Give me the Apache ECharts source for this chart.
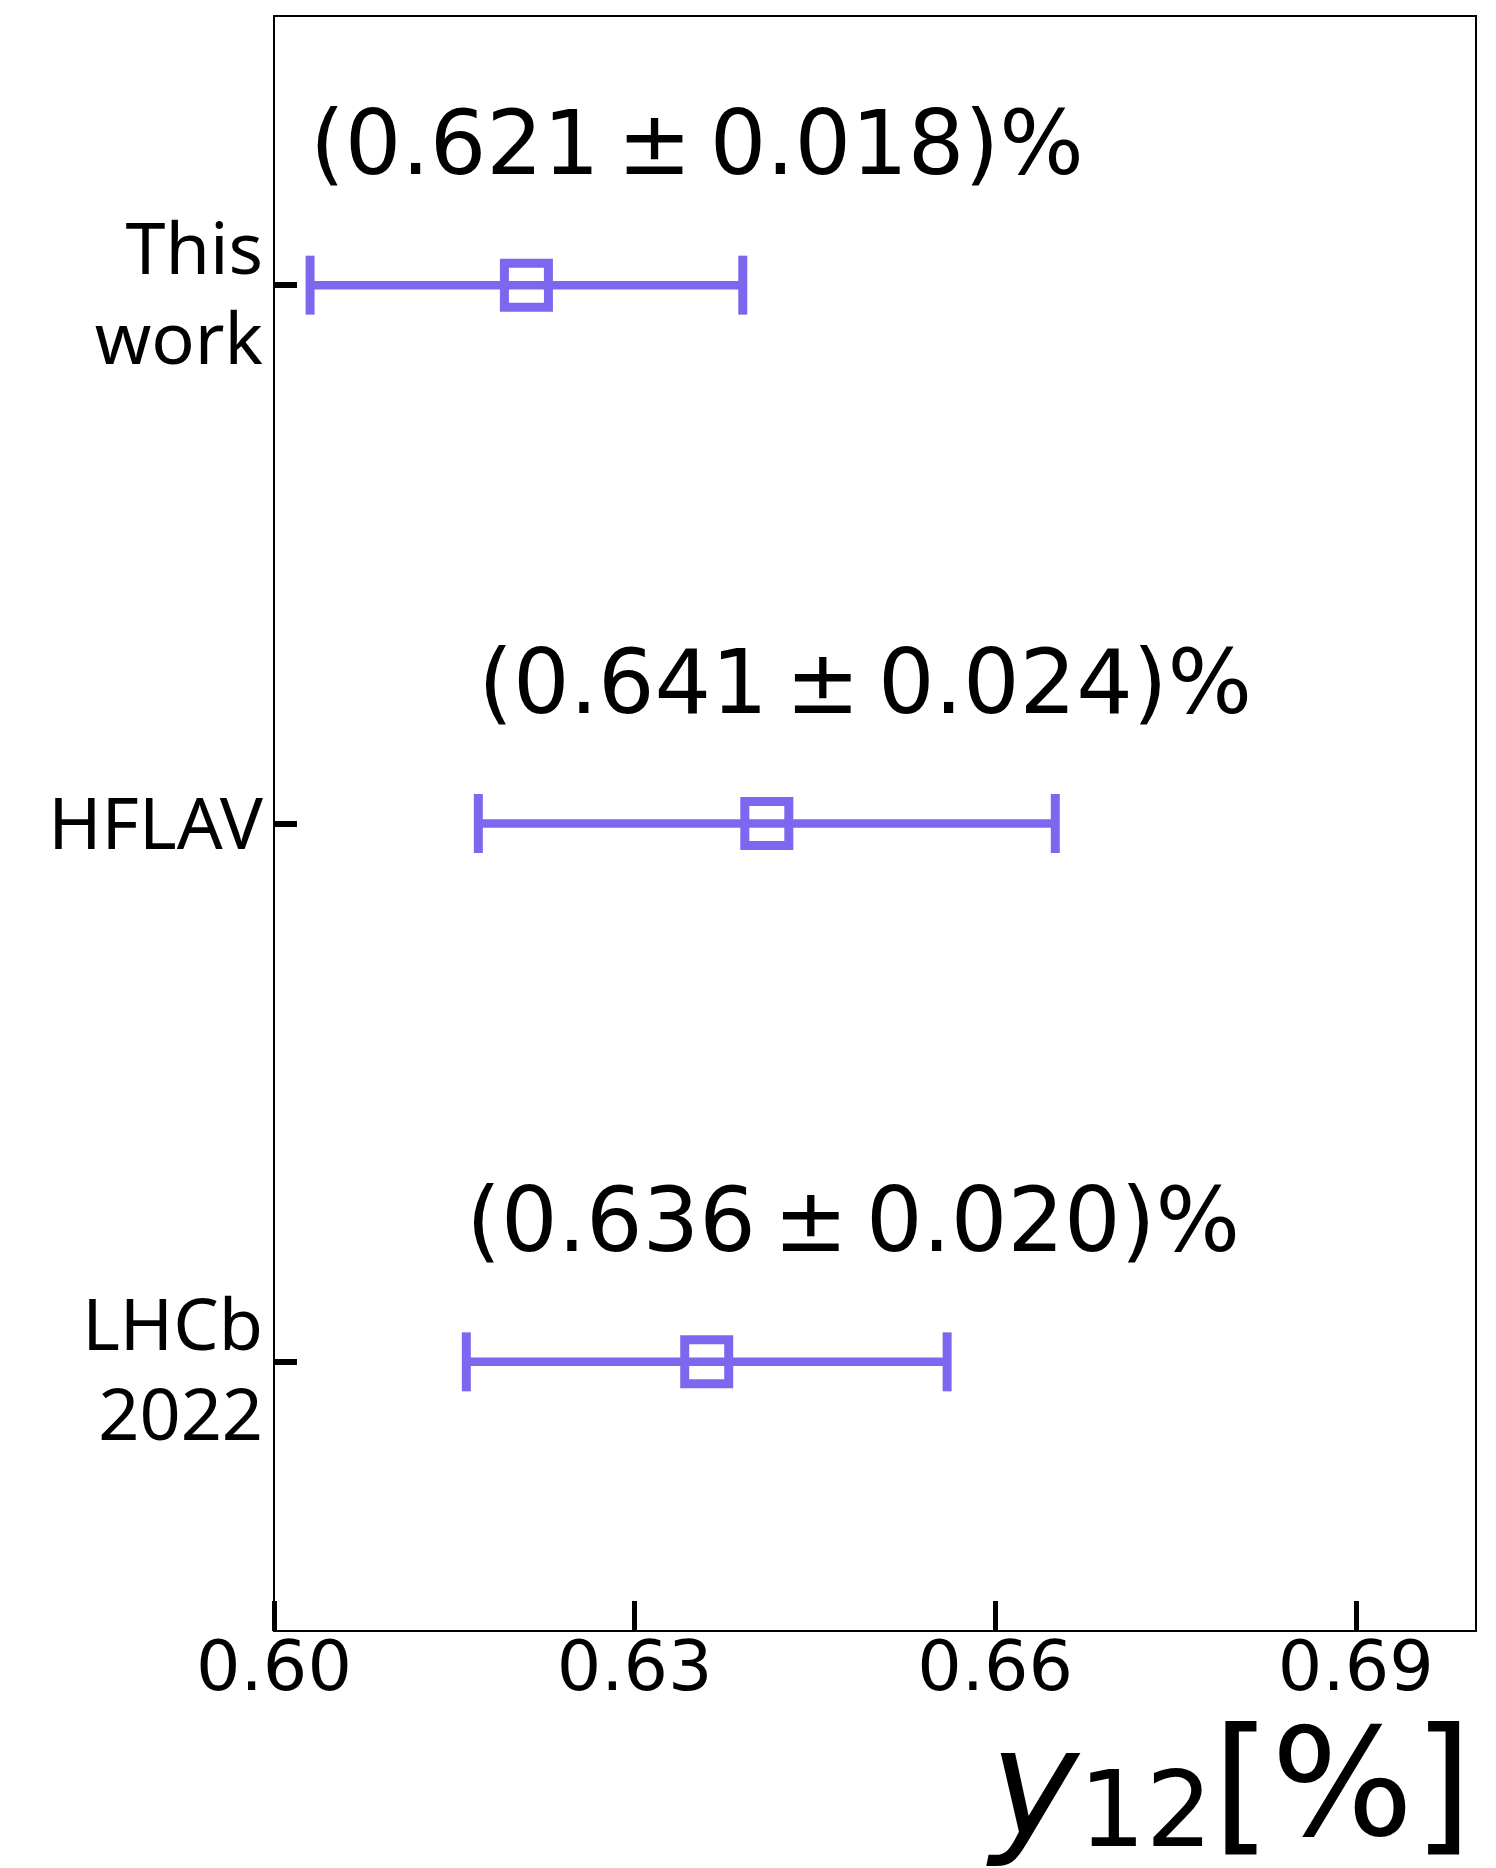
<!DOCTYPE html>
<html>
<head>
<meta charset="utf-8">
<title>y12 comparison</title>
<script src="https://cdn.jsdelivr.net/npm/echarts@6/dist/echarts.min.js"></script>
<style>
  html, body { margin: 0; padding: 0; background: #fff; }
  #chart { width: 1496px; height: 1868px; }
</style>
</head>
<body>
<div id="chart"></div>
<script>
// Measurements of y12 (in %), top to bottom
const categories = ['This\nwork', 'HFLAV', 'LHCb\n2022'];
const centralValues = [0.621, 0.641, 0.636];
const uncertainties = [0.018, 0.024, 0.020];

// x axis
const xMin = 0.60;
const xMax = 0.70;
const xTickValues = [0.60, 0.63, 0.66, 0.69];
const xTickLabels = ['0.60', '0.63', '0.66', '0.69'];

const markColor = '#7B68EE';

const errorBarData = categories.map((c, i) => [
  centralValues[i] - uncertainties[i],
  centralValues[i] + uncertainties[i],
  i,
  centralValues[i],
  uncertainties[i]
]);
const pointData = categories.map((c, i) => [centralValues[i], i]);

const catFont = { fontFamily: 'Noto Sans', fontSize: 72, lineHeight: 90, color: '#000' };

const chart = echarts.init(document.getElementById('chart'), null, { renderer: 'canvas' });

const option = {
  animation: false,
  backgroundColor: '#fff',
  grid: {
    left: 274, right: 20, top: 16, bottom: 237,
    outerBoundsMode: 'none',
    show: true, borderColor: '#000', borderWidth: 2, backgroundColor: 'transparent'
  },
  xAxis: {
    type: 'value',
    min: xMin, max: xMax,
    axisLine: { show: true, lineStyle: { color: '#000', width: 2 } },
    splitLine: { show: false },
    axisTick: {
      show: true, inside: true, length: 30,
      lineStyle: { color: '#000', width: 5 },
      customValues: xTickValues
    },
    axisLabel: {
      color: '#000', fontFamily: 'DejaVu Sans', fontSize: 70, margin: 6,
      customValues: xTickValues,
      formatter: v => xTickLabels[xTickValues.findIndex(t => Math.abs(t - v) < 1e-9)]
    },
    name: '{i|y}{s|12}{n|[%]}',
    nameLocation: 'end',
    nameGap: -4,
    nameTextStyle: {
      align: 'right', verticalAlign: 'top', padding: [90, 0, 0, 0],
      color: '#000',
      rich: {
        i: { fontFamily: 'DejaVu Sans', fontStyle: 'italic', fontSize: 150, color: '#000' },
        s: { fontFamily: 'DejaVu Sans', fontSize: 105, color: '#000', verticalAlign: 'bottom', lineHeight: 2 },
        n: { fontFamily: 'DejaVu Sans', fontSize: 150, color: '#000' }
      }
    }
  },
  yAxis: {
    type: 'category',
    inverse: true,
    data: categories,
    axisLine: { show: true, lineStyle: { color: '#000', width: 2 } },
    splitLine: { show: false },
    axisTick: {
      show: true, inside: true, length: 23, alignWithLabel: true,
      lineStyle: { color: '#000', width: 6 }
    },
    axisLabel: {
      color: '#000', fontFamily: 'Noto Sans', fontSize: 72, lineHeight: 90,
      margin: 11, align: 'right',
      // two-line names sit a little lower than single-line ones
      formatter: v => {
        const lines = v.split('\n');
        const key = lines.length > 1 ? 'two' : 'one';
        return lines.map(s => '{' + key + '|' + s + '}').join('\n');
      },
      rich: {
        one: Object.assign({ padding: [10, 0, 0, 0] }, catFont),
        two: Object.assign({ padding: [26, 0, 0, 0] }, catFont)
      }
    }
  },
  series: [
    {
      type: 'custom',
      data: errorBarData,
      encode: { x: [0, 1], y: 2 },
      z: 2,
      renderItem(params, api) {
        const lo = api.coord([api.value(0), api.value(2)]);
        const hi = api.coord([api.value(1), api.value(2)]);
        const capHalf = 29.5;
        const label = '(' + api.value(3).toFixed(3) + '\u2009\u00B1\u2009' + api.value(4).toFixed(3) + ')%';
        return {
          type: 'group',
          children: [
            { type: 'line', shape: { x1: lo[0], y1: lo[1], x2: hi[0], y2: hi[1] },
              style: { stroke: markColor, lineWidth: 8.5 } },
            { type: 'line', shape: { x1: lo[0], y1: lo[1] - capHalf, x2: lo[0], y2: lo[1] + capHalf },
              style: { stroke: markColor, lineWidth: 9 } },
            { type: 'line', shape: { x1: hi[0], y1: hi[1] - capHalf, x2: hi[0], y2: hi[1] + capHalf },
              style: { stroke: markColor, lineWidth: 9 } },
            { type: 'text', x: lo[0], y: lo[1] - 134,
              style: { text: label, fill: '#000', fontFamily: 'DejaVu Sans', fontSize: 89,
                       align: 'left', verticalAlign: 'middle' } }
          ]
        };
      }
    },
    {
      type: 'scatter',
      data: pointData,
      symbol: 'rect',
      symbolSize: 44,
      z: 3,
      itemStyle: { color: 'rgba(0,0,0,0)', borderColor: markColor, borderWidth: 9, opacity: 1 }
    }
  ]
};

chart.setOption(option);
</script>
</body>
</html>
